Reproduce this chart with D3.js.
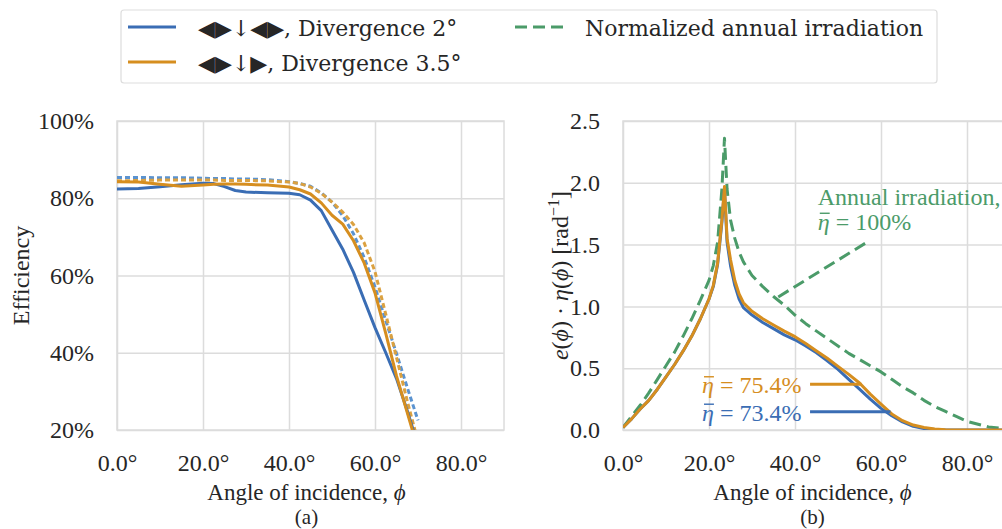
<!DOCTYPE html>
<html>
<head>
<meta charset="utf-8">
<script src="https://cdn.jsdelivr.net/npm/d3@7"></script>
<style>
  body { margin: 0; background: #fff; }
  svg { display: block; }
  text { fill: #262626; }
  .tick text { font-family: "Liberation Serif", serif; font-size: 24px; }
</style>
</head>
<body>
<script>
// ---- data ----
// panel (a): efficiency vs angle of incidence
const effAngles = [0, 5, 10, 15, 20, 22.5, 25, 27.5, 30, 35, 40, 42.5, 45, 47.5, 50, 52.5, 55, 57.5, 60, 62.5, 65, 67.5, 70]
const effBlue = [82.4, 82.5, 83.0, 83.5, 83.9, 83.8, 83.0, 82.0, 81.6, 81.4, 81.3, 80.9, 79.5, 76.8, 71.8, 66.8, 60.8, 53.6, 46.5, 40.0, 33.3, 25.0, 16.0]
const effOrange = [84.3, 84.2, 83.6, 83.1, 83.4, 83.6, 83.7, 83.7, 83.6, 83.4, 82.9, 82.2, 81.1, 78.8, 75.6, 73.3, 69.0, 63.2, 55.5, 45.0, 34.0, 24.5, 15.0]
const effBlueIdeal = [85.4, 85.4, 85.3, 85.3, 85.2, 85.1, 85.1, 85.0, 85.0, 84.8, 84.3, 83.8, 83.1, 81.4, 79.0, 75.5, 70.8, 64.6, 57.0, 48.3, 39.8, 31.0, 22.5]
const effOrangeIdeal = [84.5, 84.6, 84.7, 84.7, 84.7, 84.7, 84.6, 84.6, 84.6, 84.5, 84.2, 83.8, 82.9, 81.3, 79.0, 76.4, 73.2, 68.4, 61.0, 50.0, 38.8, 27.5, 17.0]
const effTicksX = [0, 20, 40, 60, 80]
const effTicksY = [20, 40, 60, 80, 100]

// panel (b): e(phi) * eta(phi)
const irrAngles = [0, 2, 4, 6, 8, 10, 12, 14, 16, 18, 20, 21, 22, 23, 23.6, 24.2, 25, 26, 27, 28, 30, 32.5, 35, 37.5, 40, 42.5, 45, 47.5, 50, 52.5, 55, 57.5, 60, 62.5, 65, 67.5, 70, 72.5, 75, 77.5, 80, 85, 90]
const irrGreen = [0.02, 0.11, 0.20, 0.30, 0.41, 0.52, 0.63, 0.76, 0.90, 1.05, 1.21, 1.33, 1.52, 1.95, 2.36, 1.95, 1.70, 1.55, 1.44, 1.36, 1.25, 1.16, 1.08, 1.01, 0.93, 0.86, 0.80, 0.74, 0.68, 0.62, 0.57, 0.52, 0.47, 0.41, 0.35, 0.30, 0.24, 0.19, 0.15, 0.11, 0.07, 0.025, 0.005]
const irrOrange = [0.02, 0.09, 0.17, 0.24, 0.33, 0.43, 0.53, 0.64, 0.76, 0.90, 1.06, 1.17, 1.35, 1.70, 1.97, 1.55, 1.38, 1.21, 1.10, 1.03, 0.96, 0.90, 0.85, 0.80, 0.755, 0.70, 0.64, 0.58, 0.515, 0.45, 0.38, 0.29, 0.21, 0.13, 0.075, 0.04, 0.02, 0.008, 0.003, 0.001, 0, 0, 0]
const irrBlue = [0.02, 0.09, 0.17, 0.24, 0.33, 0.43, 0.53, 0.64, 0.76, 0.90, 1.06, 1.16, 1.34, 1.68, 1.95, 1.52, 1.33, 1.17, 1.06, 0.99, 0.93, 0.87, 0.82, 0.77, 0.73, 0.68, 0.625, 0.56, 0.49, 0.41, 0.33, 0.25, 0.175, 0.115, 0.065, 0.03, 0.012, 0.004, 0.001, 0, 0, 0, 0]
const irrTicksX = [0, 20, 40, 60, 80]
const irrTicksY = [0, 0.5, 1.0, 1.5, 2.0, 2.5]

const legendLabels = ["\u25C0\u25B6\u2193\u25C0\u25B6, Divergence 2°", "\u25C0\u25B6\u2193\u25B6, Divergence 3.5°", "Normalized annual irradiation"]

const blue = "#3a6db4", orange = "#d68e1f", green = "#4b9b69", grid = "#dcdcdc"
const serif = "'Liberation Serif', 'Times New Roman', serif"

const svg = d3.select("body").append("svg").attr("width", 1002).attr("height", 529)

function zip(xs, ys) { return xs.map((x, i) => [x, ys[i]]) }

function makePanel(opt) {
  const g = svg.append("g").attr("transform", "translate(" + opt.left + "," + opt.top + ")")
  const x = d3.scaleLinear().domain([0, 90]).range([0, opt.width])
  const y = d3.scaleLinear().domain(opt.yDomain).range([opt.height, 0])

  g.append("clipPath").attr("id", opt.id).append("rect")
    .attr("width", opt.width).attr("height", opt.height)

  const xa = g.append("g").attr("transform", "translate(0," + opt.height + ")")
    .call(d3.axisBottom(x).tickValues(opt.xTicks).tickSize(-opt.height).tickPadding(24)
      .tickFormat(d => d.toFixed(1) + "°"))
  const ya = g.append("g")
    .call(d3.axisLeft(y).tickValues(opt.yTicks).tickSize(-opt.width).tickPadding(23)
      .tickFormat(opt.yFormat))
  for (const a of [xa, ya]) {
    a.select(".domain").remove()
    a.selectAll(".tick line").attr("stroke", grid).attr("stroke-width", 1.5)
  }
  // spines
  g.append("rect").attr("width", opt.width).attr("height", opt.height)
    .attr("fill", "none").attr("stroke", grid).attr("stroke-width", 1.5)

  const line = d3.line().x(d => x(d[0])).y(d => y(d[1]))
  const plot = g.append("g").attr("clip-path", "url(#" + opt.id + ")")
  opt.series.forEach(s => {
    plot.append("path").attr("d", line(s.data))
      .attr("fill", "none").attr("stroke", s.color).attr("stroke-width", 3)
      .attr("stroke-dasharray", s.dash || null)
      .attr("stroke-linejoin", "round")
  })

  // x label + panel letter
  g.append("text").attr("x", opt.width / 2 - 4).attr("y", opt.height + 70)
    .attr("text-anchor", "middle").style("font-family", serif).style("font-size", "23px")
    .text("Angle of incidence, ")
    .append("tspan").style("font-style", "italic").text("ϕ")
  g.append("text").attr("x", opt.width / 2 - 4).attr("y", opt.height + 94)
    .attr("text-anchor", "middle").style("font-family", serif).style("font-size", "21px")
    .text(opt.letter)
  return { g, x, y }
}

// eta with a bar over it, then the rest of the label
function etaLabel(parent, xPos, yPos, rest, color, anchor) {
  const t = parent.append("text").attr("x", xPos).attr("y", yPos)
    .attr("text-anchor", anchor).style("font-family", serif).style("font-size", "24px")
    .style("fill", color)
  t.append("tspan").style("font-style", "italic").text("η")
  t.append("tspan").text(" = " + rest)
  const ext = t.node().getExtentOfChar(0)
  parent.append("line")
    .attr("x1", ext.x + 2).attr("x2", ext.x + ext.width)
    .attr("y1", yPos - 16.5).attr("y2", yPos - 16.5)
    .attr("stroke", color).attr("stroke-width", 1.4)
}

// panel (a)
const pa = makePanel({
  id: "clipA", left: 117, top: 121, width: 387, height: 309,
  yDomain: [20, 100], xTicks: effTicksX, yTicks: effTicksY, yFormat: d => d + "%",
  letter: "(a)",
  series: [
    { data: zip(effAngles, effBlueIdeal), color: "#5b93d0", dash: "5,3" },
    { data: zip(effAngles, effOrangeIdeal), color: "#dba140", dash: "5,3" },
    { data: zip(effAngles, effBlue), color: blue },
    { data: zip(effAngles, effOrange), color: orange }
  ]
})
pa.g.append("text")
  .attr("transform", "translate(-88," + (309 / 2) + ") rotate(-90)")
  .attr("text-anchor", "middle").style("font-family", serif).style("font-size", "24px")
  .text("Efficiency")

// panel (b)
const pb = makePanel({
  id: "clipB", left: 623, top: 121, width: 387, height: 309,
  yDomain: [0, 2.5], xTicks: irrTicksX, yTicks: irrTicksY, yFormat: d3.format(".1f"),
  letter: "(b)",
  series: [
    { data: zip(irrAngles, irrGreen), color: green, dash: "12,6" },
    { data: zip(irrAngles, irrBlue), color: blue },
    { data: zip(irrAngles, irrOrange), color: orange }
  ]
})
const yl = pb.g.append("text")
  .attr("transform", "translate(-55," + (309 / 2) + ") rotate(-90)")
  .attr("text-anchor", "middle").style("font-family", serif).style("font-size", "24px")
yl.append("tspan").style("font-style", "italic").text("e")
yl.append("tspan").text("(")
yl.append("tspan").style("font-style", "italic").text("ϕ")
yl.append("tspan").text(") · ")
yl.append("tspan").style("font-style", "italic").text("η")
yl.append("tspan").text("(")
yl.append("tspan").style("font-style", "italic").text("ϕ")
yl.append("tspan").text(") [rad")
yl.append("tspan").attr("dy", -9).style("font-size", "16px").text("−1")
yl.append("tspan").attr("dy", 9).text("]")

// annotations in panel (b), placed in data coordinates
const notes = [
  { text: "75.4%", color: orange, from: 41.5, to: 55.5, v: 0.37, lineFrom: 43.5 },
  { text: "73.4%", color: blue, from: 41.5, to: 62.2, v: 0.148, lineFrom: 43.5 }
]
notes.forEach(n => {
  pb.g.append("line")
    .attr("x1", pb.x(n.lineFrom)).attr("x2", pb.x(n.to))
    .attr("y1", pb.y(n.v)).attr("y2", pb.y(n.v))
    .attr("stroke", n.color).attr("stroke-width", 3)
  etaLabel(pb.g, pb.x(n.from), pb.y(n.v) + 9, n.text, n.color, "end")
})
pb.g.append("line")
  .attr("x1", pb.x(56.3)).attr("y1", pb.y(1.51))
  .attr("x2", pb.x(35.8)).attr("y2", pb.y(1.07))
  .attr("stroke", green).attr("stroke-width", 3).attr("stroke-dasharray", "12,6")
pb.g.append("text").attr("x", pb.x(45.3)).attr("y", pb.y(1.82)).style("fill", green)
  .style("font-family", serif).style("font-size", "24px")
  .text("Annual irradiation,")
etaLabel(pb.g, pb.x(45.3), pb.y(1.62), "100%", green, "start")

// legend
const leg = svg.append("g")
leg.append("rect").attr("x", 121).attr("y", 10).attr("width", 816).attr("height", 73).attr("rx", 3)
  .attr("fill", "#fff").attr("stroke", "#dddddd").attr("stroke-width", 1.2)
const legItems = [
  { label: legendLabels[0], color: blue, lx: 128, ly: 27 },
  { label: legendLabels[1], color: orange, lx: 128, ly: 62 },
  { label: legendLabels[2], color: green, lx: 515, ly: 27, dash: "12,6" }
]
legItems.forEach(it => {
  leg.append("line").attr("x1", it.lx).attr("x2", it.lx + 48).attr("y1", it.ly).attr("y2", it.ly)
    .attr("stroke", it.color).attr("stroke-width", 3).attr("stroke-dasharray", it.dash || null)
  leg.append("text").attr("x", it.lx + 70).attr("y", it.ly + 9)
    .style("font-family", "'DejaVu Serif', serif").style("font-size", "22px")
    .text(it.label)
})
</script>
</body>
</html>
